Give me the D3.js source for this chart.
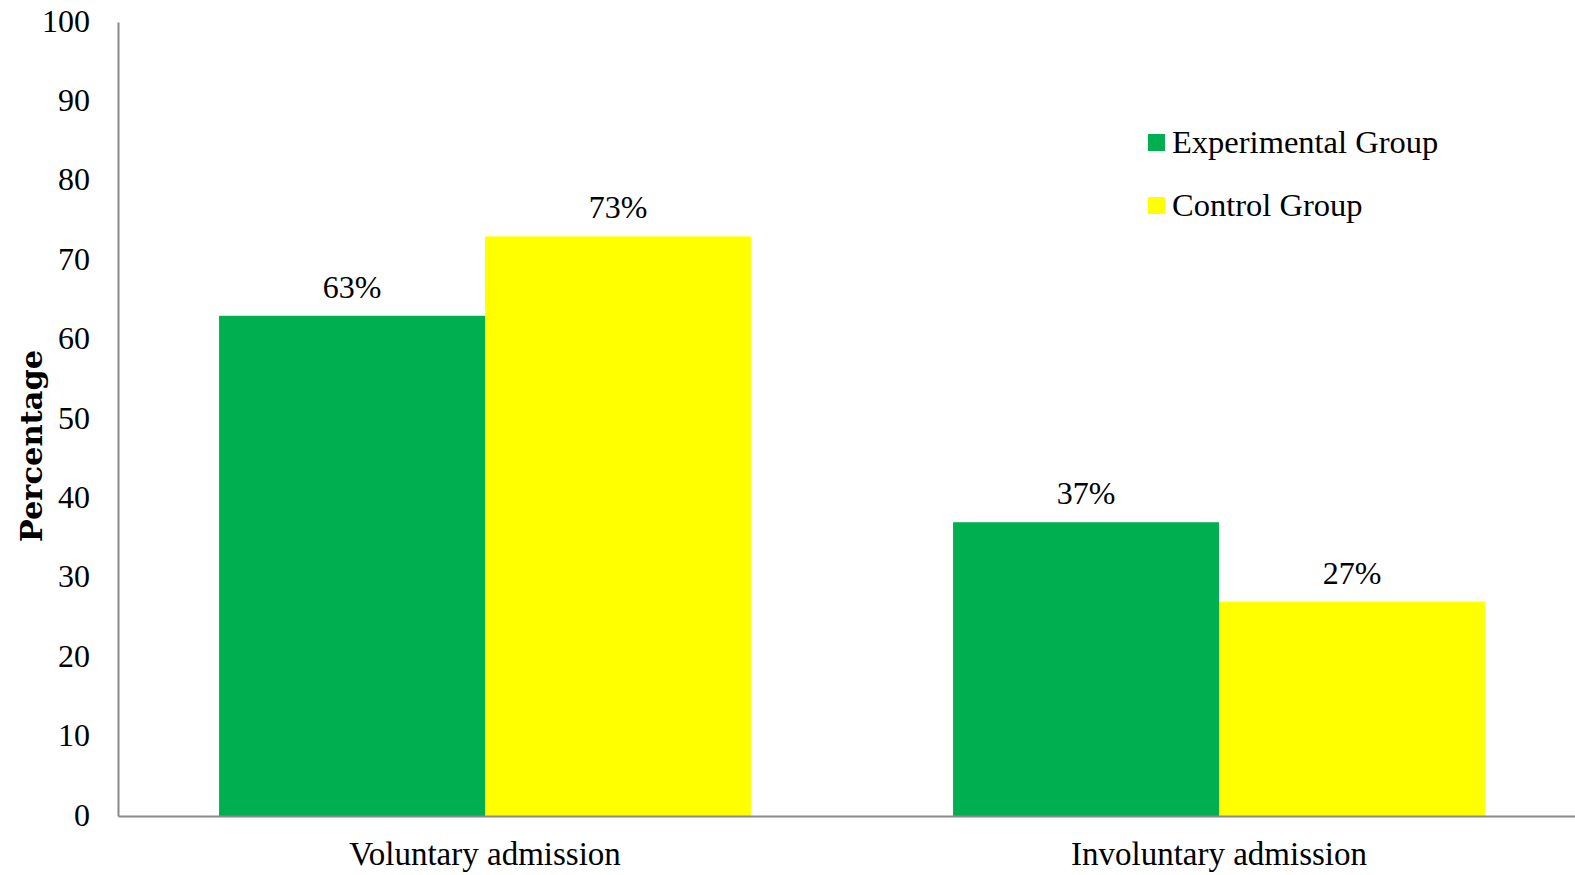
<!DOCTYPE html>
<html>
<head>
<meta charset="utf-8">
<script src="https://cdn.jsdelivr.net/npm/d3@7"></script>
<style>
  html, body { margin: 0; padding: 0; background: #fff; }
  svg { display: block; }
  text { font-family: "Liberation Serif", "Times New Roman", serif; fill: #000; }
</style>
</head>
<body>
<svg id="chart" width="1575" height="875"></svg>
<script>
const categories = ["Voluntary admission", "Involuntary admission"];
const seriesNames = ["Experimental Group", "Control Group"];
const experimental = [63, 37];
const control = [73, 27];
const yTicks = [0, 10, 20, 30, 40, 50, 60, 70, 80, 90, 100];
const colors = ["#00B050", "#FFFF00"];

(function () {
const svg = d3.select("#chart");
const mLeft = 118, mRight = 1586, mTop = 22, mBottom = 816;

const x0 = d3.scaleBand().domain(categories).range([mLeft, mRight]).padding(0);
const x1 = d3.scaleBand().domain(seriesNames).range([0, x0.bandwidth()])
  .paddingInner(0).paddingOuter(0.38);
const y = d3.scaleLinear().domain([0, 100]).range([mBottom, mTop]);

const values = [experimental, control];

// bars
categories.forEach((c, ci) => {
  const g = svg.append("g").attr("transform", `translate(${x0(c)},0)`);
  seriesNames.forEach((s, si) => {
    const v = values[si][ci];
    g.append("rect")
      .attr("x", x1(s))
      .attr("y", y(v))
      .attr("width", x1.bandwidth())
      .attr("height", y(0) - y(v))
      .attr("fill", colors[si]);
    g.append("text")
      .attr("x", x1(s) + x1.bandwidth() / 2)
      .attr("y", y(v) - 18)
      .attr("text-anchor", "middle")
      .attr("font-size", 32)
      .text(v + "%");
  });
});

// y axis
const yAxis = d3.axisLeft(y).tickValues(yTicks).tickSize(0).tickPadding(0);
const ya = svg.append("g").attr("transform", `translate(${mLeft},0)`).call(yAxis);
ya.select(".domain").attr("stroke", "#898989").attr("stroke-width", 2);
ya.selectAll(".tick text")
  .attr("x", -28)
  .attr("dy", 9)
  .attr("font-size", 32)
  .attr("font-family", "'Liberation Serif', 'Times New Roman', serif")
  .attr("fill", "#000");

// x axis
const xAxis = d3.axisBottom(x0).tickSize(0).tickPadding(0);
const xa = svg.append("g").attr("transform", `translate(0,${mBottom})`).call(xAxis);
xa.select(".domain").attr("stroke", "#898989").attr("stroke-width", 2);
xa.selectAll(".tick text")
  .attr("y", 49)
  .attr("dy", 0)
  .attr("font-size", 33)
  .attr("font-family", "'Liberation Serif', 'Times New Roman', serif")
  .attr("fill", "#000");

// y label
svg.append("text")
  .attr("transform", "translate(42,446) rotate(-90)")
  .attr("text-anchor", "middle")
  .attr("font-size", 30.5)
  .attr("font-weight", "bold")
  .style("font-family", "'DejaVu Serif', serif")
  .text("Percentage");

// legend
const legend = svg.append("g");
seriesNames.forEach((s, i) => {
  const ly = 134 + i * 63;
  legend.append("rect")
    .attr("x", 1148).attr("y", ly)
    .attr("width", 17).attr("height", 17)
    .attr("fill", colors[i]);
  legend.append("text")
    .attr("x", 1172).attr("y", ly + 19)
    .attr("font-size", 32.5)
    .text(s);
});
})();
</script>
</body>
</html>
